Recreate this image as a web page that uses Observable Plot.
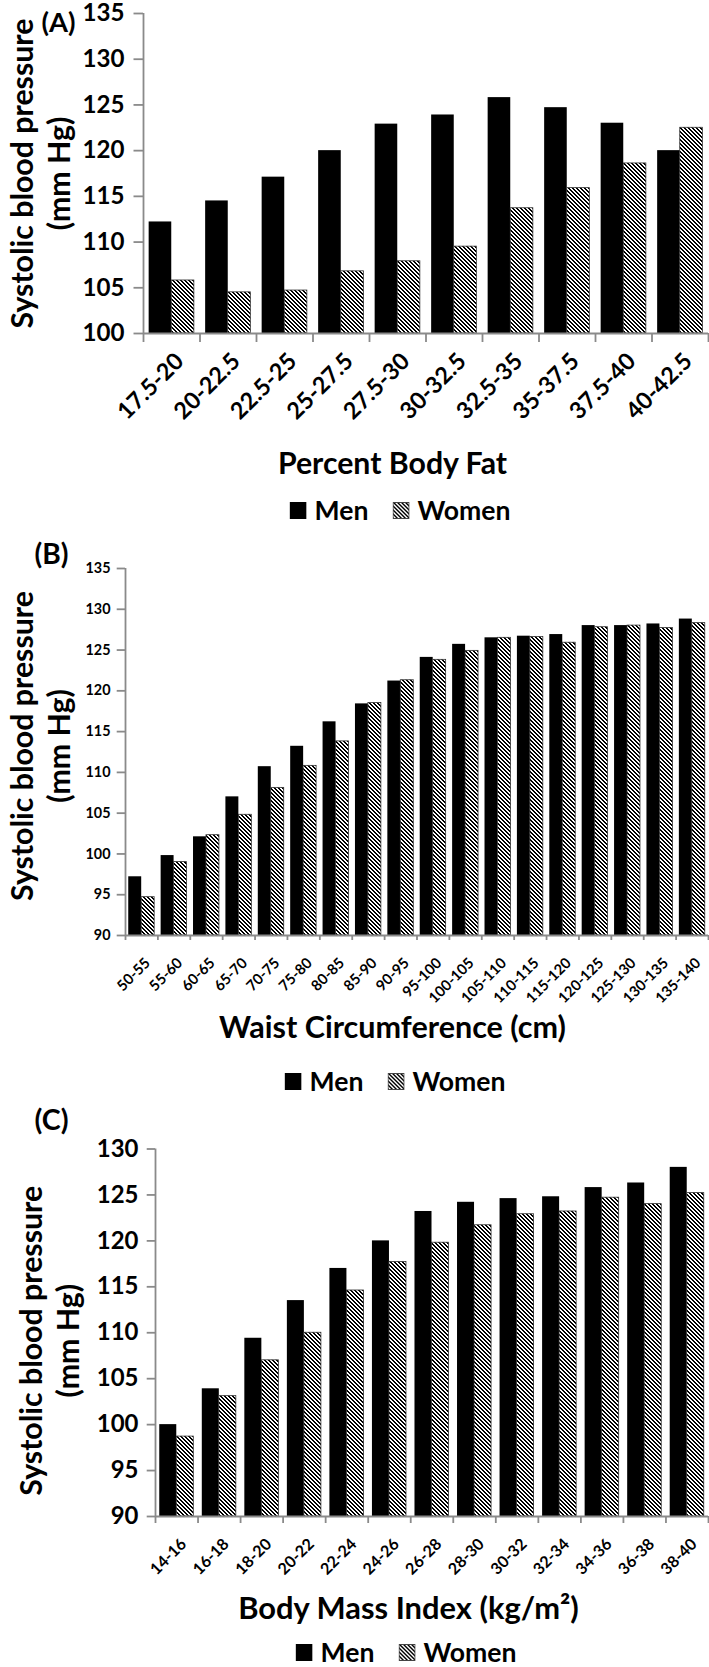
<!DOCTYPE html>
<html><head><meta charset="utf-8">
<script src="https://cdn.jsdelivr.net/npm/d3@7"></script>
<script src="https://cdn.jsdelivr.net/npm/@observablehq/plot@0.6"></script>
<style>
 body{margin:0;background:#fff;}
 #root{position:relative;width:709px;height:1667px;background:#fff;overflow:hidden;font-family:Lato,'Open Sans',sans-serif;font-weight:700;color:#000;}
 .panel{position:absolute;left:0;}
 .legend{position:absolute;display:flex;align-items:flex-start;transform:translateX(-50%);white-space:nowrap;}
 .legend .t{line-height:17px;}
</style></head><body>
<div id="root">
<svg width="0" height="0" style="position:absolute">
 <defs>
  <pattern id="hatch" patternUnits="userSpaceOnUse" width="4" height="4">
   <rect width="4" height="4" fill="white"/>
   <g fill="black" shape-rendering="crispEdges">
    <rect x="0" y="0" width="2" height="1"/>
    <rect x="1" y="1" width="2" height="1"/>
    <rect x="2" y="2" width="2" height="1"/>
    <rect x="3" y="3" width="1" height="1"/>
    <rect x="0" y="3" width="1" height="1"/>
   </g>
  </pattern>
 </defs>
</svg>
</div>
<script>
// ---------- data ----------
const sexes = ["Men", "Women"];

const bodyFatCats = ["17.5-20","20-22.5","22.5-25","25-27.5","27.5-30","30-32.5","32.5-35","35-37.5","37.5-40","40-42.5"];
const bodyFatMen   = [112.2,114.5,117.1,120.0,122.9,123.9,125.8,124.7,123.0,120.0];
const bodyFatWomen = [105.8,104.5,104.7,106.8,107.9,109.5,113.7,115.9,118.6,122.5];
const bodyFatTicks = [100,105,110,115,120,125,130,135];

const waistCats = ["50-55","55-60","60-65","65-70","70-75","75-80","80-85","85-90","90-95","95-100","100-105","105-110","110-115","115-120","120-125","125-130","130-135","135-140"];
const waistMen   = [97.2,99.8,102.1,107.0,110.7,113.2,116.2,118.4,121.2,124.1,125.7,126.5,126.7,126.9,128.0,128.0,128.2,128.8];
const waistWomen = [94.7,99.0,102.3,104.8,108.1,110.8,113.8,118.5,121.3,123.8,124.9,126.5,126.6,125.9,127.8,128.0,127.7,128.3];
const waistTicks = [90,95,100,105,110,115,120,125,130,135];

const bmiCats = ["14-16","16-18","18-20","20-22","22-24","24-26","26-28","28-30","30-32","32-34","34-36","36-38","38-40"];
const bmiMen   = [100.0,103.9,109.4,113.5,117.0,120.0,123.2,124.2,124.6,124.8,125.8,126.3,128.0];
const bmiWomen = [98.7,103.1,107.0,110.0,114.6,117.7,119.8,121.7,122.9,123.2,124.7,124.0,125.2];
const bmiTicks = [90,95,100,105,110,115,120,125,130];

const yTitle1 = "Systolic blood pressure";
const yTitle2 = "(mm Hg)";

// ---------- drawing ----------
const FONT = "Lato, 'Open Sans', sans-serif";
const AXIS = "#8a8a8a";
const root = document.getElementById("root");

// font size that gives a text a wanted rendered width (the reference is set in a Calibri-like face)
const ctx = document.createElement("canvas").getContext("2d");
function fit(text, width) {
  ctx.font = `700 100px ${FONT}`;
  return 100 * width / ctx.measureText(text).width;
}

function panel(o) {
  const n = o.cats.length;
  const base = o.ticks[0], top = o.ticks[o.ticks.length - 1];
  const rows = o.cats.flatMap((c, i) => [
    {cat: c, i, sex: sexes[0], v: o.men[i]},
    {cat: c, i, sex: sexes[1], v: o.women[i]}
  ]);
  const slot = {Men: [0.1, 0.5], Women: [0.5, 0.9]};
  const yFont = fit("100", o.yTickW);
  const xFont = fit(o.cats[0], o.xTickW);
  const titleFont = fit(o.title, o.titleW);
  const ytFont = fit(yTitle1, 310);
  const tagFont = fit(o.tag, 34);
  const svg = Plot.plot({
    width: 709, height: o.height,
    marginLeft: o.left, marginRight: 1, marginTop: o.mt, marginBottom: o.mb,
    x: {domain: [0, n]},
    y: {domain: [base, top]},
    style: {fontFamily: FONT, fontWeight: 700, color: "#000", background: "transparent", overflow: "visible"},
    marks: [
      Plot.rect(rows.filter(d => d.sex === "Men"), {
        x1: d => d.i + slot.Men[0], x2: d => d.i + slot.Men[1], y1: base, y2: "v", fill: "black"
      }),
      Plot.rect(rows.filter(d => d.sex === "Women"), {
        x1: d => d.i + slot.Women[0], x2: d => d.i + slot.Women[1], y1: base, y2: "v",
        fill: "url(#hatch)", stroke: "#333", strokeWidth: 0.8
      }),
      Plot.axisY({ticks: o.ticks, tickSize: o.yTickSize, tickFormat: () => "", stroke: AXIS, strokeWidth: 1.8, label: null}),
      Plot.axisY({ticks: o.ticks, tickSize: 0, tickPadding: o.yPad, fontSize: yFont, color: "black", label: null}),
      Plot.axisX({ticks: d3.range(n + 1), tickSize: o.xTickSize, tickFormat: () => "", stroke: AXIS, strokeWidth: 1.8, label: null}),
      Plot.ruleX([0], {stroke: AXIS, strokeWidth: 1.8}),
      Plot.ruleY([base], {stroke: AXIS, strokeWidth: 1.8}),
      Plot.text(o.cats, {
        x: (d, i) => i + 0.5, y: base, text: d => d, rotate: -45, textAnchor: "end", lineAnchor: "middle",
        dx: o.labDx, dy: o.labDy, fontSize: xFont, fontWeight: 700, fill: "black"
      }),
      Plot.text([yTitle1 + "\n" + yTitle2], {
        frameAnchor: "left", textAnchor: "middle", lineAnchor: "middle", rotate: -90, dx: o.ytDx, dy: o.ytDy,
        fontSize: ytFont, lineHeight: 37 / ytFont, fontWeight: 700, fill: "black"
      }),
      Plot.text([o.tag], {
        frameAnchor: "top-left", textAnchor: "start", lineAnchor: "middle", dx: o.tagDx, dy: o.tagDy,
        fontSize: tagFont, fontWeight: 700, fill: "black"
      }),
      Plot.text([o.title], {
        frameAnchor: "bottom", textAnchor: "middle", lineAnchor: "middle", dx: o.xtDx, dy: o.xtDy,
        fontSize: titleFont, fontWeight: 700, fill: "black"
      })
    ]
  });
  svg.classList.add("panel");
  svg.style.top = o.top + "px";
  root.appendChild(svg);

  // legend below the chart
  const lgFont = fit(sexes[1], 93);
  const lg = document.createElement("div");
  lg.className = "legend";
  lg.style.left = o.legendCx + "px";
  lg.style.top = o.legendTop + "px";
  lg.style.fontSize = lgFont + "px";
  lg.innerHTML =
    `<svg width="17" height="17" style="margin-right:8px"><rect x="0" y="0" width="17" height="17" fill="black"/></svg>` +
    `<span class="t">${sexes[0]}</span>` +
    `<svg width="17" height="17" style="margin-left:24px;margin-right:8px"><rect x="0.5" y="0.5" width="16" height="16" fill="url(#hatch)" stroke="#444" stroke-width="1"/></svg>` +
    `<span class="t">${sexes[1]}</span>`;
  root.appendChild(lg);
}

panel({
  cats: bodyFatCats, men: bodyFatMen, women: bodyFatWomen, ticks: bodyFatTicks,
  top: 0, height: 490, left: 143, mt: 13, mb: 157,
  yTickSize: 9.5, yPad: 19, yTickW: 42, xTickSize: 9, xTickW: 82, labDx: 8, labDy: 24,
  ytDx: -104, ytDy: 0, tag: "(A)", tagDx: -102, tagDy: 10,
  title: "Percent Body Fat", titleW: 230, xtDx: -33.5, xtDy: 131,
  legendCx: 400, legendTop: 502
});

panel({
  cats: waistCats, men: waistMen, women: waistWomen, ticks: waistTicks,
  top: 530, height: 520, left: 125, mt: 38, mb: 115,
  yTickSize: 8.3, yPad: 15, yTickW: 25, xTickSize: 5, xTickW: 39.7, labDx: 6, labDy: 25,
  ytDx: -86, ytDy: -6, tag: "(B)", tagDx: -91, tagDy: -14,
  title: "Waist Circumference (cm)", titleW: 347, xtDx: -24.5, xtDy: 93,
  legendCx: 395, legendTop: 1073
});

panel({
  cats: bmiCats, men: bmiMen, women: bmiWomen, ticks: bmiTicks,
  top: 1100, height: 530, left: 155, mt: 48.5, mb: 114,
  yTickSize: 8.3, yPad: 17, yTickW: 41.7, xTickSize: 7, xTickW: 43.2, labDx: 7, labDy: 25,
  ytDx: -107, ytDy: 8, tag: "(C)", tagDx: -121, tagDy: -28,
  title: "Body Mass Index (kg/m²)", titleW: 341.5, xtDx: -23.5, xtDy: 92.5,
  legendCx: 406, legendTop: 1644
});
</script>
</body></html>
